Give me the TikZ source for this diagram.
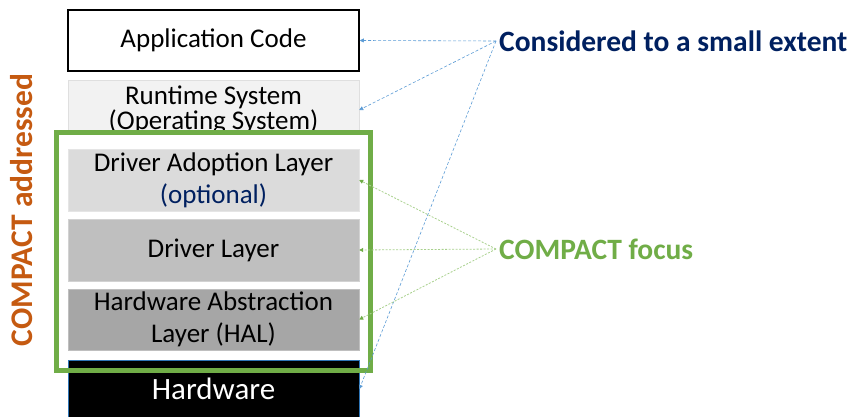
\documentclass[tikz,border=0pt]{standalone}
\usepackage{fontspec}
\setmainfont{Carlito}
\usetikzlibrary{arrows.meta}

\definecolor{vertc}{HTML}{70AD47}
\definecolor{vertpale}{HTML}{A9D18E}
\definecolor{orangec}{HTML}{C55A11}
\definecolor{marine}{HTML}{002060}
\definecolor{bleuc}{HTML}{5B9BD5}
\definecolor{bleuhw}{HTML}{2E75B6}

\begin{document}
\begin{tikzpicture}[x=1pt,y=-1pt,
  couche/.style={minimum width=291pt, minimum height=61pt, inner sep=0pt,
    align=center, font=\fontsize{27}{32}\selectfont},
  titre/.style={anchor=west, inner sep=3pt, font=\bfseries\fontsize{29.5}{34}\selectfont},
  flechebleue/.style={bleuc, dash pattern=on 3pt off 2pt, line width=0.6pt,
    -{Triangle[length=4pt,width=4pt]}},
  flecheverte/.style={vertpale, dash pattern=on 2pt off 1.5pt, line width=0.8pt,
    -{Triangle[length=4pt,width=4pt,color=vertc,fill=vertc]}}]
\useasboundingbox (0,0) rectangle (862,417);

% Couches
\node[couche, draw=black, line width=1.5pt, fill=white] (app) at (213.5,40.5) {Application Code};
\node[couche, draw=gray!25, fill=gray!10, minimum height=60pt,
  font=\fontsize{27}{24}\selectfont] (rts) at (213.5,110) {Runtime System\\(Operating System)};

% fond du cadre COMPACT
\fill[white] (56,133) rectangle (370,370);

\node[couche, draw=gray!20, fill=gray!28, minimum height=62pt] (dal) at (213.5,180)
  {Driver Adoption Layer\\\textcolor{marine}{(optional)}};
\node[couche, draw=gray!35, fill=gray!50, minimum height=62pt] (drv) at (213.5,250) {Driver Layer};
\node[couche, draw=gray!50, fill=gray!70] (hal) at (213.5,319.5) {Hardware Abstraction\\Layer (HAL)};
\node[couche, draw=bleuhw, line width=0.8pt, fill=black, text=white, minimum height=58pt,
  font=\fontsize{31}{36}\selectfont] (hw) at (213.5,389) {Hardware};

% cadre COMPACT
\draw[vertc, line width=5pt] (56,133) rectangle (370,370);
\node[rotate=90, text=orangec, font=\bfseries\fontsize{31.5}{36}\selectfont] (addr) at (22,210) {COMPACT addressed};

% Labels
\node[titre, text=marine] (cons) at (496,41) {Considered to a small extent};
\node[titre, text=vertc] (foc) at (496,249) {COMPACT focus};

% Fleches
\draw[flechebleue] (cons.west) -- (app.east);
\draw[flechebleue] (cons.west) -- (rts.east);
\draw[flechebleue] (cons.west) -- (hw.east);
\draw[flecheverte] (foc.west) -- (dal.east);
\draw[flecheverte] (foc.west) -- (drv.east);
\draw[flecheverte] (foc.west) -- (hal.east);
\end{tikzpicture}
\end{document}
